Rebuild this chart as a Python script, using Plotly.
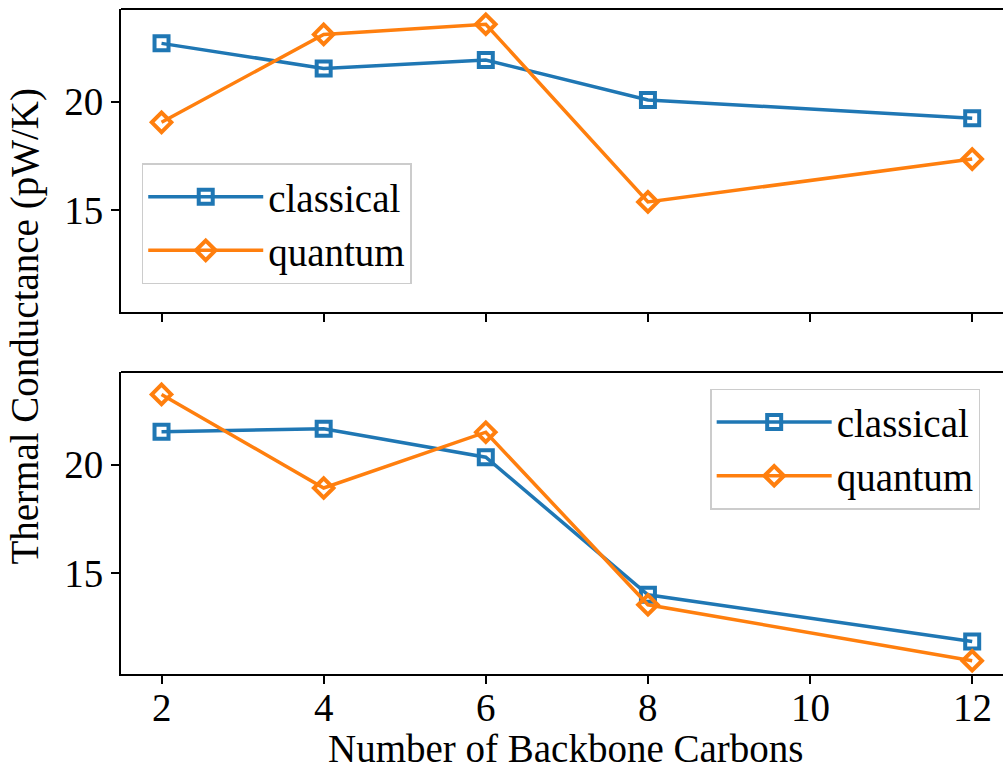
import plotly.graph_objects as go
from plotly.subplots import make_subplots

# Number of backbone carbons
carbons = [2, 4, 6, 8, 12]

# Thermal conductance (pW/K), upper panel
top_classical = [22.68, 21.53, 21.91, 20.08, 19.24]
top_quantum = [19.05, 23.09, 23.56, 15.39, 17.36]

# Thermal conductance (pW/K), lower panel
bottom_classical = [21.51, 21.65, 20.34, 14.00, 11.85]
bottom_quantum = [23.23, 18.92, 21.49, 13.54, 10.96]

x_ticks = [2, 4, 6, 8, 10, 12]
y_ticks = [15, 20]

BLUE = "#1f77b4"
ORANGE = "#ff7f0e"
FONT = "Liberation Serif"
FS = 39

fig = make_subplots(rows=2, cols=1, shared_xaxes=True, vertical_spacing=0.09)


def add_pair(row, classical, quantum, legend):
    fig.add_trace(go.Scatter(
        x=carbons, y=classical, name="classical", mode="lines+markers",
        line=dict(color=BLUE, width=3.5),
        marker=dict(symbol="square-open", size=14, color=BLUE,
                    line=dict(width=4, color=BLUE)),
        legend=legend,
    ), row=row, col=1)
    fig.add_trace(go.Scatter(
        x=carbons, y=quantum, name="quantum", mode="lines+markers",
        line=dict(color=ORANGE, width=3.5),
        marker=dict(symbol="diamond-open", size=15, color=ORANGE,
                    line=dict(width=4, color=ORANGE)),
        legend=legend,
    ), row=row, col=1)


add_pair(1, top_classical, top_quantum, "legend")
add_pair(2, bottom_classical, bottom_quantum, "legend2")

axis_common = dict(
    showline=True, linecolor="black", linewidth=2,
    ticks="outside", ticklen=8, tickwidth=2, tickcolor="black",
    showgrid=False, zeroline=False,
    tickfont=dict(family=FONT, size=FS, color="black"),
)

# x tick labels are written as annotations below the lower panel
fig.update_xaxes(range=[1.5, 12.38], tickvals=x_ticks, showticklabels=False,
                 **axis_common)
fig.update_yaxes(range=[10.35, 24.26], tickvals=y_ticks, **axis_common)

fig.update_layout(
    yaxis=dict(domain=[0.545, 1.0]),
    yaxis2=dict(domain=[0.0, 0.454]),
)

# top spines of both panels
for ydom in (1.0, 0.454):
    fig.add_shape(type="line", xref="paper", yref="paper",
                  x0=0, x1=1, y0=ydom, y1=ydom,
                  line=dict(color="black", width=2))

legend_style = dict(
    font=dict(family=FONT, size=FS, color="black"),
    bgcolor="rgba(255,255,255,0.8)", bordercolor="#cccccc", borderwidth=1.5,
    xanchor="left", yanchor="top", itemwidth=115,
)

annotations = [
    dict(text=str(t), xref="x2", yref="paper", x=t, y=-0.0511,
         showarrow=False, xanchor="center", yanchor="middle",
         font=dict(family=FONT, size=FS, color="black"))
    for t in x_ticks
]
annotations += [
    dict(text="Thermal Conductance (pW/K)", xref="paper", yref="paper",
         x=-0.1088, y=0.5226, textangle=-90, showarrow=False,
         xanchor="center", yanchor="middle",
         font=dict(family=FONT, size=FS, color="black")),
    dict(text="Number of Backbone Carbons", xref="paper", yref="paper",
         x=0.5045, y=-0.1113, showarrow=False,
         xanchor="center", yanchor="middle",
         font=dict(family=FONT, size=FS, color="black")),
]

fig.update_layout(
    width=1003, height=771,
    margin=dict(l=121, r=0, t=9, b=97),
    paper_bgcolor="white", plot_bgcolor="white",
    font=dict(family=FONT, size=FS, color="black"),
    legend=dict(x=0.0235, y=0.768, **legend_style),
    legend2=dict(x=0.668, y=0.429, **legend_style),
    annotations=annotations,
)

fig.write_html("out.html")
